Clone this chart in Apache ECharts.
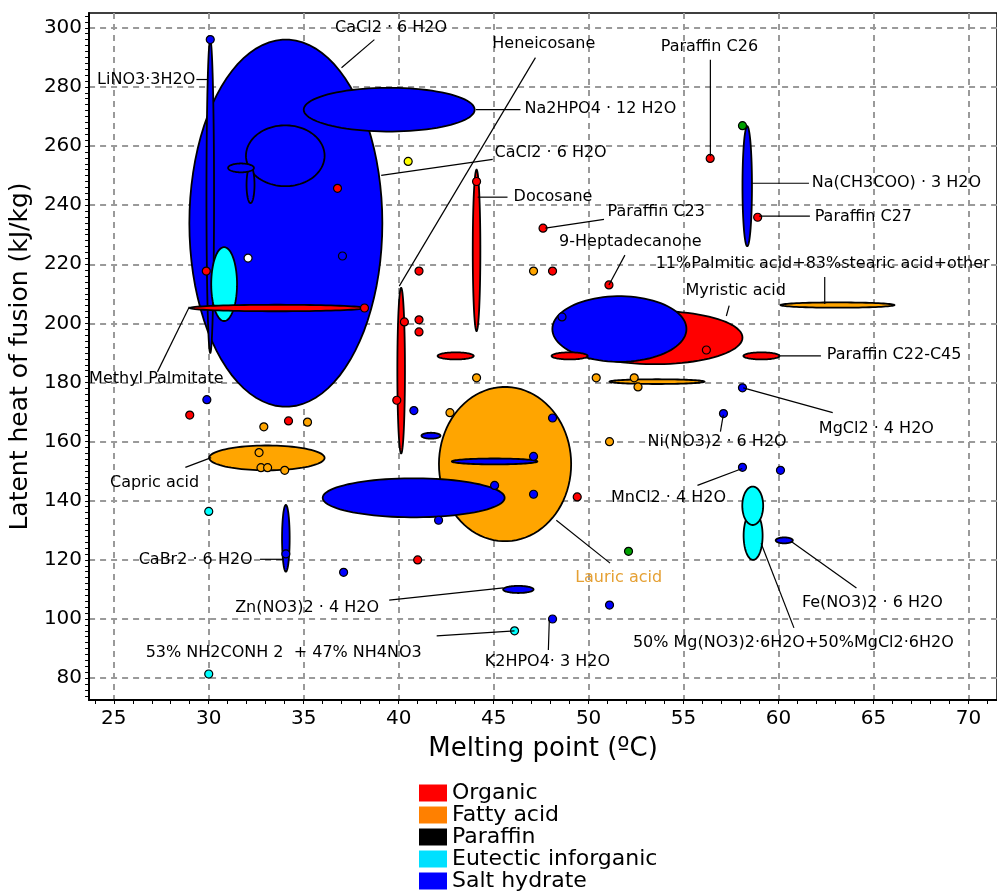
<!DOCTYPE html>
<html>
<head>
<meta charset="utf-8">
<script src="https://cdn.jsdelivr.net/npm/echarts@6/dist/echarts.min.js"></script>
<style>
  html, body { margin: 0; padding: 0; background: #fff; }
  #chart { width: 997px; height: 892px; }
</style>
</head>
<body>
<div id="chart"></div>
<script>
// 坐标轴刻度
var xTicks = [25, 30, 35, 40, 45, 50, 55, 60, 65, 70];
var yTicks = [80, 100, 120, 140, 160, 180, 200, 220, 240, 260, 280, 300];
var xMinor = [];
for (var i = 24; i <= 71; i++) xMinor.push(i);
var yMinor = [];
for (var j = 74; j <= 304; j += 2) yMinor.push(j);

// 椭圆: [熔点中心, 潜热中心, 熔点半宽, 潜热半高]
var saltEllipses = [
    [34.06, 233.9, 5.08, 62.1],   // CaCl2·6H2O
    [39.5, 272.3, 4.5, 7.4],      // Na2HPO4·12H2O
    [34.03, 256.7, 2.07, 10.3],
    [31.7, 252.6, 0.68, 1.5],
    [32.2, 246.9, 0.21, 6.2],
    [30.08, 243.0, 0.2, 53.0],    // LiNO3·3H2O
    [51.62, 198.1, 3.53, 11.1],
    [58.35, 246.4, 0.25, 20.3],   // Na(CH3COO)·3H2O
    [40.79, 141.0, 4.79, 6.6],
    [45.05, 153.3, 2.25, 1.0],
    [41.7, 162.0, 0.5, 1.0],
    [34.06, 127.3, 0.2, 11.3],    // CaBr2·6H2O
    [46.3, 110.0, 0.8, 1.2],      // Zn(NO3)2·4H2O
    [60.3, 126.6, 0.45, 1.0]      // Fe(NO3)2·6H2O
];
var saltPoints = [
    [30.08, 296], [37.04, 222.8], [48.6, 202.2], [29.9, 174.2], [40.8, 170.5],
    [48.1, 168], [47.1, 155], [45.05, 145.2], [47.1, 142.2], [42.1, 133.4],
    [37.1, 115.8], [51.1, 104.7], [48.1, 100], [58.1, 178.2], [57.1, 169.5],
    [58.1, 151.3], [60.1, 150.3], [34.06, 122]
];

var organicEllipses = [
    [53.5, 195.2, 4.6, 9.0],      // Myristic acid
    [33.6, 205.2, 4.6, 1.1],      // Methyl Palmitate
    [44.1, 224.7, 0.2, 27.3],     // Docosane
    [40.13, 184.0, 0.2, 28.0],    // Heneicosane
    [43.0, 189.0, 0.95, 1.2],
    [49.0, 189.0, 0.95, 1.2],
    [59.1, 189.0, 0.95, 1.2]      // Paraffin C22-C45
];
var organicPoints = [
    [38.2, 205.2], [44.1, 248], [41.07, 217.7], [41.07, 201.2], [41.07, 197.1],
    [40.3, 200.5], [36.78, 245.7], [29.87, 217.7], [47.6, 232.2], [48.1, 217.7],
    [51.07, 213], [56.2, 191], [56.4, 255.8], [58.9, 235.9], [49.4, 141.3],
    [39.9, 174], [41.0, 120], [29.0, 169], [34.2, 167]
];

var fattyEllipses = [
    [45.6, 152.4, 3.48, 26.1],    // Lauric acid
    [33.06, 154.5, 3.04, 4.2],    // Capric acid
    [63.1, 206.2, 3.0, 0.9],      // 11%Palmitic+83%stearic
    [53.6, 180.3, 2.5, 0.8]
];
var fattyPoints = [
    [47.1, 217.7], [52.4, 181.6], [52.6, 178.5], [50.4, 181.6], [51.1, 160],
    [42.7, 169.8], [44.1, 181.6], [35.2, 166.6], [32.9, 165], [32.65, 156.3],
    [32.75, 151.2], [33.1, 151.2], [34.0, 150.3]
];

var eutecticEllipses = [
    [30.81, 213.3, 0.68, 12.5],
    [58.64, 138.3, 0.55, 6.5],
    [58.66, 128.2, 0.5, 8.2]
];
var eutecticPoints = [[30.0, 136.4], [30.0, 81.4], [46.1, 96]];

var yellowPoints = [[40.5, 254.8]];
var whitePoints = [[32.07, 222.1]];
var greenPoints = [[58.1, 266.9], [52.1, 122.9]];

// 标注: 文字, 文字位置, 引线
var annotations = [
    { text: 'CaCl2 · 6 H2O', at: [39.6, 300], align: 'center', line: [38.72, 296.0, 36.99, 286.5] },
    { text: 'Heneicosane', at: [47.64, 294.6], align: 'center', line: [47.2, 289.9, 40.03, 212.6] },
    { text: 'LiNO3·3H2O', at: [29.29, 282.5], align: 'right', line: [29.35, 282.5, 29.92, 282.5] },
    { text: 'Paraffin C26', at: [56.36, 293.6], align: 'center', line: [56.41, 289.2, 56.41, 256.5] },
    { text: 'Na2HPO4 · 12 H2O', at: [46.62, 272.7], align: 'left', line: [44.06, 272.3, 46.41, 272.3] },
    { text: 'CaCl2 · 6 H2O', at: [45.05, 257.8], align: 'left', line: [39.08, 250.1, 44.95, 255.5] },
    { text: 'Docosane', at: [46.05, 242.7], align: 'left', line: [44.16, 242.7, 45.73, 242.7] },
    { text: 'Paraffin C23', at: [51.0, 237.9], align: 'left', line: [47.72, 232.2, 50.81, 235.2] },
    { text: '9-Heptadecanone', at: [52.2, 227.5], align: 'center', line: [51.07, 213, 51.91, 223.1] },
    { text: 'Na(CH3COO) · 3 H2O', at: [61.75, 247.4], align: 'left', line: [58.56, 247.4, 61.6, 247.4] },
    { text: 'Paraffin C27', at: [61.9, 235.9], align: 'left', line: [58.98, 236.3, 61.65, 236.3] },
    { text: '11%Palmitic acid+83%stearic acid+other', at: [53.53, 220.1], align: 'left', line: [62.43, 215.7, 62.43, 206.6] },
    { text: 'Myristic acid', at: [55.1, 211.0], align: 'left', line: [57.4, 206.0, 57.25, 202.5] },
    { text: 'Paraffin C22-C45', at: [62.54, 189.4], align: 'left', line: [60.08, 189, 62.23, 189] },
    { text: 'MgCl2 · 4 H2O', at: [62.12, 164.4], align: 'left', line: [58.14, 178.2, 62.85, 169.8] },
    { text: 'Ni(NO3)2 · 6 H2O', at: [53.1, 160.0], align: 'left', line: [57.09, 169.1, 56.94, 163.4] },
    { text: 'MnCl2 · 4 H2O', at: [51.18, 141.1], align: 'left', line: [55.73, 145.2, 58.09, 150.9] },
    { text: 'Fe(NO3)2 · 6 H2O', at: [61.23, 105.4], align: 'left', line: [60.65, 126.3, 64.1, 110.5] },
    { text: '50% Mg(NO3)2·6H2O+50%MgCl2·6H2O', at: [52.33, 91.9], align: 'left', line: [59.08, 125.6, 60.81, 97] },
    { text: 'Lauric acid', at: [49.29, 113.8], align: 'left', color: '#e5a033', line: [48.3, 133.4, 51.13, 118.9] },
    { text: 'K2HPO4· 3 H2O', at: [44.53, 85.5], align: 'left', line: [47.93, 99.7, 47.88, 89.5] },
    { text: '53% NH2CONH 2  + 47% NH4NO3', at: [26.68, 88.5], align: 'left', line: [42.0, 94.3, 46.1, 96] },
    { text: 'Zn(NO3)2 · 4 H2O', at: [31.39, 103.7], align: 'left', line: [39.5, 106.4, 45.52, 110.5] },
    { text: 'CaBr2 · 6 H2O', at: [26.31, 119.9], align: 'left', line: [32.7, 120.2, 33.95, 120.2] },
    { text: 'Capric acid', at: [24.8, 145.9], align: 'left', line: [28.77, 151.3, 30.13, 154.6] },
    { text: 'Methyl Palmitate', at: [23.7, 181.3], align: 'left', line: [27.3, 183.6, 28.98, 205.6] }
];

var chart = echarts.init(document.getElementById('chart'));
var FONT = 'DejaVu Sans';

// 椭圆 (小的画在上面)
function renderEllipse(params, api) {
    var cx = api.value(0), cy = api.value(1), rx = api.value(2), ry = api.value(3);
    var pts = [];
    for (var k = 0; k < 90; k++) {
        var t = k / 90 * Math.PI * 2;
        pts.push(api.coord([cx + rx * Math.cos(t), cy + ry * Math.sin(t)]));
    }
    var s = api.size([rx, ry]);
    return {
        type: 'polygon',
        z2: -Math.round(s[0] * s[1]),
        shape: { points: pts },
        style: { fill: api.visual('color'), stroke: '#000', lineWidth: 1.8 }
    };
}

function ellipseSeries(name, color, data) {
    return {
        name: name,
        type: 'custom',
        renderItem: renderEllipse,
        itemStyle: { color: color },
        encode: { x: 0, y: 1 },
        data: data,
        silent: true
    };
}

function pointSeries(name, color, data) {
    return {
        name: name,
        type: 'scatter',
        symbol: 'circle',
        symbolSize: 8,
        itemStyle: { color: color, borderColor: '#000', borderWidth: 1.2, opacity: 1 },
        data: data,
        silent: true,
        z: 3
    };
}

var gridLine = { show: true, lineStyle: { color: '#9a9a9a', width: 2, type: [6, 5] } };

var option = {
    animation: false,
    grid: { left: 86, right: 0, top: 13, bottom: 192, show: true, borderColor: '#000', borderWidth: 1.5 },
    xAxis: [{
        type: 'value',
        min: 23.7,
        max: 71.5,
        name: 'Melting point (ºC)',
        nameLocation: 'middle',
        nameGap: 36,
        nameTextStyle: { fontFamily: FONT, fontSize: 26, color: '#000' },
        axisLine: { show: true, lineStyle: { color: '#000', width: 2 } },
        axisTick: { show: false, customValues: xTicks },
        axisLabel: { customValues: xTicks, fontFamily: FONT, fontSize: 20, color: '#000', margin: 9 },
        splitLine: gridLine
    }, {
        type: 'value',
        min: 23.7,
        max: 71.5,
        position: 'bottom',
        axisLine: { show: false },
        axisTick: { show: true, customValues: xMinor, length: 4, lineStyle: { color: '#000' } },
        axisLabel: { show: false },
        splitLine: { show: false }
    }],
    yAxis: [{
        type: 'value',
        min: 72.6,
        max: 305,
        name: 'Latent heat of fusion (kJ/kg)',
        nameLocation: 'middle',
        nameGap: 48,
        nameTextStyle: { fontFamily: FONT, fontSize: 25, color: '#000' },
        axisLine: { show: true, lineStyle: { color: '#000', width: 2 } },
        axisTick: { show: false, customValues: yTicks },
        axisLabel: { customValues: yTicks, fontFamily: FONT, fontSize: 20, color: '#000', margin: 7 },
        splitLine: gridLine
    }, {
        type: 'value',
        min: 72.6,
        max: 305,
        position: 'left',
        axisLine: { show: false },
        axisTick: { show: true, customValues: yMinor, length: 4, lineStyle: { color: '#000' } },
        axisLabel: { show: false },
        splitLine: { show: false }
    }],
    legend: {
        orient: 'vertical',
        left: 419,
        top: 782,
        height: 140,
        padding: 0,
        icon: 'rect',
        itemWidth: 28,
        itemHeight: 17,
        itemGap: 0,
        itemStyle: { borderWidth: 0 },
        textStyle: { fontFamily: FONT, fontSize: 22, color: '#000', lineHeight: 21.7 },
        data: [
            { name: 'Organic', itemStyle: { color: '#ff0000' } },
            { name: 'Fatty acid', itemStyle: { color: '#ff8000' } },
            { name: 'Paraffin', itemStyle: { color: '#000000' } },
            { name: 'Eutectic inforganic', itemStyle: { color: '#00e0ff' } },
            { name: 'Salt hydrate', itemStyle: { color: '#0000ff' } }
        ]
    },
    series: [
        ellipseSeries('Organic', '#ff0000', organicEllipses),
        ellipseSeries('Fatty acid', '#ffa500', fattyEllipses),
        ellipseSeries('Paraffin', '#000000', []),
        ellipseSeries('Eutectic inforganic', '#00ffff', eutecticEllipses),
        ellipseSeries('Salt hydrate', '#0000ff', saltEllipses),
        pointSeries('Organic', '#ff0000', organicPoints),
        pointSeries('Fatty acid', '#ffa500', fattyPoints),
        pointSeries('Eutectic inforganic', '#00ffff', eutecticPoints),
        pointSeries('Salt hydrate', '#0000ff', saltPoints),
        pointSeries('other1', '#ffff00', yellowPoints),
        pointSeries('other2', '#ffffff', whitePoints),
        pointSeries('other3', '#00a000', greenPoints),
        {
            name: 'labels',
            type: 'custom',
            silent: true,
            z: 5,
            data: annotations.map(function (a, i) { return [a.at[0], a.at[1], i]; }),
            encode: { x: 0, y: 1 },
            renderItem: function (params, api) {
                var a = annotations[api.value(2)];
                var p1 = api.coord([a.line[0], a.line[1]]);
                var p2 = api.coord([a.line[2], a.line[3]]);
                var pt = api.coord(a.at);
                return {
                    type: 'group',
                    children: [{
                        type: 'line',
                        shape: { x1: p1[0], y1: p1[1], x2: p2[0], y2: p2[1] },
                        style: { stroke: '#000', lineWidth: 1.2 }
                    }, {
                        type: 'text',
                        style: {
                            text: a.text, x: pt[0], y: pt[1],
                            align: a.align, verticalAlign: 'middle',
                            font: '16px "DejaVu Sans"', fill: a.color || '#000'
                        }
                    }]
                };
            }
        }
    ]
};

chart.setOption(option);
</script>
</body>
</html>
